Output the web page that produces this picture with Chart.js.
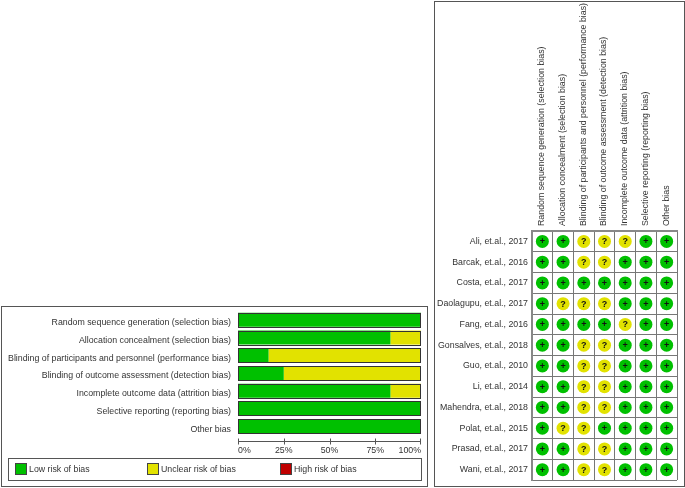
<!DOCTYPE html>
<html>
<head>
<meta charset="utf-8">
<script src="https://cdn.jsdelivr.net/npm/chart.js@4/dist/chart.umd.min.js"></script>
<style>
    html, body { margin: 0; padding: 0; background: #fff; }
    body { position: relative; width: 685px; height: 488px; overflow: hidden; font-family: "Liberation Sans", Arial, sans-serif; }
    .frame { position: absolute; box-sizing: border-box; border: 1px solid #555; }
    canvas { position: absolute; }
    #legend { position: absolute; box-sizing: border-box; left: 8px; top: 458px; width: 414px; height: 23px; border: 1px solid #555; }
    #legend span { position: absolute; top: 4px; font-size: 8.8px; line-height: 12px; color: #333; white-space: nowrap; }
    #legend i { position: absolute; top: 4px; width: 10px; height: 10px; border: 1px solid #444; box-sizing: content-box; }
</style>
</head>
<body>
<div class="frame" style="left:1px;top:306px;width:427px;height:181px"></div>
<div class="frame" style="left:434px;top:1px;width:251px;height:486px"></div>
<canvas id="summaryChart" width="428" height="180" style="left:0;top:306px;width:428px;height:180px"></canvas>
<canvas id="matrixChart" width="251" height="488" style="left:434px;top:0;width:251px;height:488px"></canvas>
<div id="legend"></div>
<script>
// Risk of bias domains
const domains = [
    'Random sequence generation (selection bias)',
    'Allocation concealment (selection bias)',
    'Blinding of participants and personnel (performance bias)',
    'Blinding of outcome assessment (detection bias)',
    'Incomplete outcome data (attrition bias)',
    'Selective reporting (reporting bias)',
    'Other bias'
];
const lowRisk = [100, 83.3, 16.7, 25, 83.3, 100, 100];
const unclearRisk = [0, 16.7, 83.3, 75, 16.7, 0, 0];
const highRisk = [0, 0, 0, 0, 0, 0, 0];
const percentTicks = [0, 25, 50, 75, 100];

// Per study judgements, one column per domain
const studies = [
    'Ali, et.al., 2017',
    'Barcak, et.al., 2016',
    'Costa, et.al., 2017',
    'Daolagupu, et.al., 2017',
    'Fang, et.al., 2016',
    'Gonsalves, et.al., 2018',
    'Guo, et.al., 2010',
    'Li, et.al., 2014',
    'Mahendra, et.al., 2018',
    'Polat, et.al., 2015',
    'Prasad, et.al., 2017',
    'Wani, et.al., 2017'
];
const judgements = [
    ['+', '+', '?', '?', '?', '+', '+'],
    ['+', '+', '?', '?', '+', '+', '+'],
    ['+', '+', '+', '+', '+', '+', '+'],
    ['+', '?', '?', '?', '+', '+', '+'],
    ['+', '+', '+', '+', '?', '+', '+'],
    ['+', '+', '?', '?', '+', '+', '+'],
    ['+', '+', '?', '?', '+', '+', '+'],
    ['+', '+', '?', '?', '+', '+', '+'],
    ['+', '+', '?', '?', '+', '+', '+'],
    ['+', '?', '?', '+', '+', '+', '+'],
    ['+', '+', '?', '?', '+', '+', '+'],
    ['+', '+', '?', '?', '+', '+', '+']
];

const riskLabels = ['Low risk of bias', 'Unclear risk of bias', 'High risk of bias'];
const GREEN = '#00c000';
const YELLOW = '#e2e200';
const RED = '#c00000';
const TEXT = '#333';
const FONT = { family: '"Liberation Sans", Arial, sans-serif', size: 8.8 };

// Keep the plot areas where they belong, labels may overhang
const fixHorizontal = (height) => (scale) => {
    scale.height = height;
    scale.paddingLeft = 0;
    scale.paddingRight = 0;
};
const fixVertical = (width) => (scale) => {
    scale.width = width;
    scale.paddingTop = 0;
    scale.paddingBottom = 0;
};

// Dark outline round each stacked bar, plus the axis line with its crossing ticks
const barOutline = {
    id: 'barOutline',
    afterDraw(chart) {
        const { ctx, scales: { x } } = chart;
        ctx.save();
        ctx.strokeStyle = '#333';
        ctx.lineWidth = 1;
        chart.getDatasetMeta(0).data.forEach((bar) => {
            const top = Math.round(bar.y - bar.height / 2) + 0.5;
            ctx.strokeRect(x.left + 0.5, top, x.right - x.left - 1, Math.round(bar.height));
        });
        const axisY = 135.5;
        ctx.strokeStyle = '#555';
        ctx.beginPath();
        ctx.moveTo(x.left, axisY);
        ctx.lineTo(x.right, axisY);
        percentTicks.forEach((value) => {
            const px = Math.min(Math.round(x.getPixelForValue(value)), x.right - 1) + 0.5;
            ctx.moveTo(px, axisY - 3);
            ctx.lineTo(px, axisY + 3);
        });
        ctx.stroke();
        ctx.restore();
    }
};

new Chart(document.getElementById('summaryChart'), {
    type: 'bar',
    data: {
        labels: domains,
        datasets: [
            { label: riskLabels[0], data: lowRisk, backgroundColor: GREEN },
            { label: riskLabels[1], data: unclearRisk, backgroundColor: YELLOW },
            { label: riskLabels[2], data: highRisk, backgroundColor: RED }
        ]
    },
    options: {
        indexAxis: 'y',
        responsive: false,
        animation: false,
        events: [],
        layout: { padding: { left: 0, right: 7, top: 5, bottom: 31 } },
        datasets: { bar: { barPercentage: 0.79, categoryPercentage: 1 } },
        scales: {
            x: {
                stacked: true,
                min: 0,
                max: 100,
                afterFit: fixHorizontal(20),
                afterBuildTicks: (scale) => { scale.ticks = percentTicks.map((value) => ({ value })); },
                grid: { display: false, drawTicks: false },
                border: { display: false },
                ticks: {
                    align: 'inner',
                    padding: 10,
                    maxRotation: 0,
                    color: TEXT,
                    font: FONT,
                    callback: (value) => value + '%'
                }
            },
            y: {
                stacked: true,
                afterFit: fixVertical(238),
                grid: { display: false, drawTicks: false },
                border: { display: false },
                ticks: { padding: 7, labelOffset: 3, color: TEXT, font: FONT, autoSkip: false }
            }
        },
        plugins: { legend: { display: false }, tooltip: { enabled: false } }
    },
    plugins: [barOutline]
});

// Turn the judgement table into points for one scatter dataset per symbol
const pointsFor = (symbol) => {
    const points = [];
    studies.forEach((study, row) => {
        domains.forEach((domain, col) => {
            if (judgements[row][col] === symbol) {
                points.push({ x: domain, y: study });
            }
        });
    });
    return points;
};

// Black + or ? on top of each circle
const symbolLabels = {
    id: 'symbolLabels',
    afterDatasetsDraw(chart) {
        const { ctx } = chart;
        ctx.save();
        ctx.fillStyle = '#111';
        ctx.textAlign = 'center';
        ctx.textBaseline = 'middle';
        ctx.font = 'bold 9px "Liberation Sans", Arial, sans-serif';
        chart.data.datasets.forEach((dataset, i) => {
            chart.getDatasetMeta(i).data.forEach((point) => {
                ctx.fillText(dataset.symbol, point.x, point.y + 0.5);
            });
        });
        ctx.restore();
    }
};

new Chart(document.getElementById('matrixChart'), {
    type: 'scatter',
    data: {
        datasets: [
            { label: riskLabels[0], symbol: '+', data: pointsFor('+'), backgroundColor: GREEN, borderWidth: 0, pointRadius: 6.5 },
            { label: riskLabels[1], symbol: '?', data: pointsFor('?'), backgroundColor: YELLOW, borderWidth: 0, pointRadius: 6.5 }
        ]
    },
    options: {
        responsive: false,
        animation: false,
        events: [],
        layout: { padding: { left: 0, right: 8, top: 0, bottom: 8 } },
        scales: {
            x: {
                type: 'category',
                position: 'top',
                labels: domains,
                offset: true,
                afterFit: fixHorizontal(231),
                grid: { color: '#777', lineWidth: 1, offset: true, drawTicks: false },
                border: { color: '#888', width: 2 },
                ticks: { padding: 5, labelOffset: 10, color: TEXT, font: FONT, minRotation: 90, maxRotation: 90, autoSkip: false }
            },
            y: {
                type: 'category',
                labels: studies,
                offset: true,
                afterFit: fixVertical(98),
                grid: { color: '#777', lineWidth: 1, offset: true, drawTicks: false },
                border: { color: '#888', width: 2 },
                ticks: { padding: 4, color: TEXT, font: FONT, autoSkip: false }
            }
        },
        plugins: { legend: { display: false }, tooltip: { enabled: false } }
    },
    plugins: [symbolLabels]
});

// Legend box under the bars
const legendBox = document.getElementById('legend');
const legendColors = [GREEN, YELLOW, RED];
const legendLefts = [6, 138, 271];
riskLabels.forEach((label, i) => {
    const swatch = document.createElement('i');
    swatch.style.left = legendLefts[i] + 'px';
    swatch.style.background = legendColors[i];
    const text = document.createElement('span');
    text.style.left = (legendLefts[i] + 14) + 'px';
    text.textContent = label;
    legendBox.append(swatch, text);
});
</script>
</body>
</html>
